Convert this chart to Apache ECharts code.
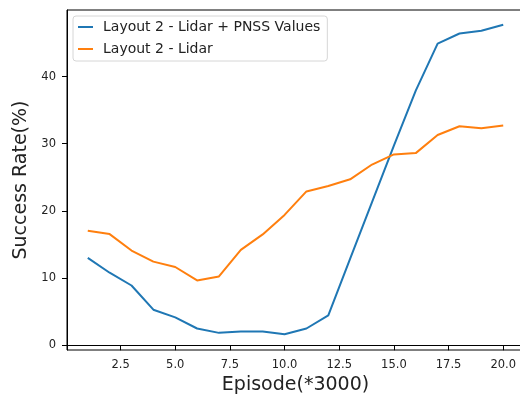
<!DOCTYPE html>
<html><head><meta charset="utf-8">
<script src="https://cdn.jsdelivr.net/npm/echarts@6/dist/echarts.min.js"></script>
<style>html,body{margin:0;padding:0;background:#fff}#c{width:520px;height:398px}</style>
</head><body><div id="c"></div>
<script>
const episodes = [1,2,3,4,5,6,7,8,9,10,11,12,13,14,15,16,17,18,19,20];
const pnssValues = [13.0,10.8,8.9,5.3,4.15,2.5,1.85,2.05,2.05,1.65,2.5,4.45,12.9,21.3,29.7,37.9,44.9,46.4,46.8,47.7];
const lidarValues = [17.05,16.55,14.1,12.45,11.65,9.65,10.25,14.2,16.5,19.4,22.9,23.7,24.7,26.9,28.4,28.6,31.3,32.6,32.3,32.7];
const seriesNames = ['Layout 2 - Lidar + PNSS Values','Layout 2 - Lidar'];
const xTicks = [2.5,5,7.5,10,12.5,15,17.5,20];
const yTicks = [0,10,20,30,40];

const chart = echarts.init(document.getElementById('c'), null, {renderer:'canvas'});
const txt = '#222';
chart.setOption({
  animation:false,
  backgroundColor:'#fff',
  grid:{left:67, top:10, width:457, height:340, show:true, borderColor:'#000', borderWidth:1, backgroundColor:'transparent', containLabel:false, outerBoundsMode:'none'},
  legend:{
    orient:'vertical', left:73, top:16,
    padding:[4,7,5,5], itemGap:8,
    backgroundColor:'rgba(255,255,255,0.8)', borderColor:'#d6d6d6', borderWidth:1, borderRadius:3,
    icon:'rect', itemWidth:15, itemHeight:2,
    textStyle:{fontFamily:'DejaVu Sans', fontSize:14, color:txt, padding:[0,0,0,5]},
    data:seriesNames
  },
  xAxis:{
    type:'value', min:0.05, max:20.95,
    name:'Episode(*3000)', nameLocation:'middle', nameGap:25,
    nameTextStyle:{fontFamily:'DejaVu Sans', fontSize:19, color:txt},
    axisLine:{show:true, lineStyle:{color:'#000', width:1}},
    axisTick:{show:true, inside:false, length:5, lineStyle:{color:'#000'}, customValues:xTicks},
    axisLabel:{customValues:xTicks, margin:9, fontFamily:'DejaVu Sans', fontSize:11.5, color:txt, formatter:v=>v.toFixed(1), hideOverlap:false},
    splitLine:{show:false}
  },
  yAxis:{
    type:'value', min:-0.7, max:49.9,
    name:'Success Rate(%)', nameLocation:'middle', nameGap:27,
    nameTextStyle:{fontFamily:'DejaVu Sans', fontSize:19, color:txt},
    axisLine:{show:true, lineStyle:{color:'#000', width:1}},
    axisTick:{show:true, inside:false, length:5, lineStyle:{color:'#000'}, customValues:yTicks},
    axisLabel:{customValues:yTicks, margin:11, fontFamily:'DejaVu Sans', fontSize:11.5, color:txt},
    splitLine:{show:false}
  },
  series:[
    {name:seriesNames[0], type:'line', showSymbol:false, symbol:'none', lineStyle:{color:'#1f77b4', width:2}, itemStyle:{color:'#1f77b4'},
     data:episodes.map((e,i)=>[e,pnssValues[i]])},
    {name:seriesNames[1], type:'line', showSymbol:false, symbol:'none', lineStyle:{color:'#ff7f0e', width:2}, itemStyle:{color:'#ff7f0e'},
     data:episodes.map((e,i)=>[e,lidarValues[i]])}
  ]
});
</script></body></html>
